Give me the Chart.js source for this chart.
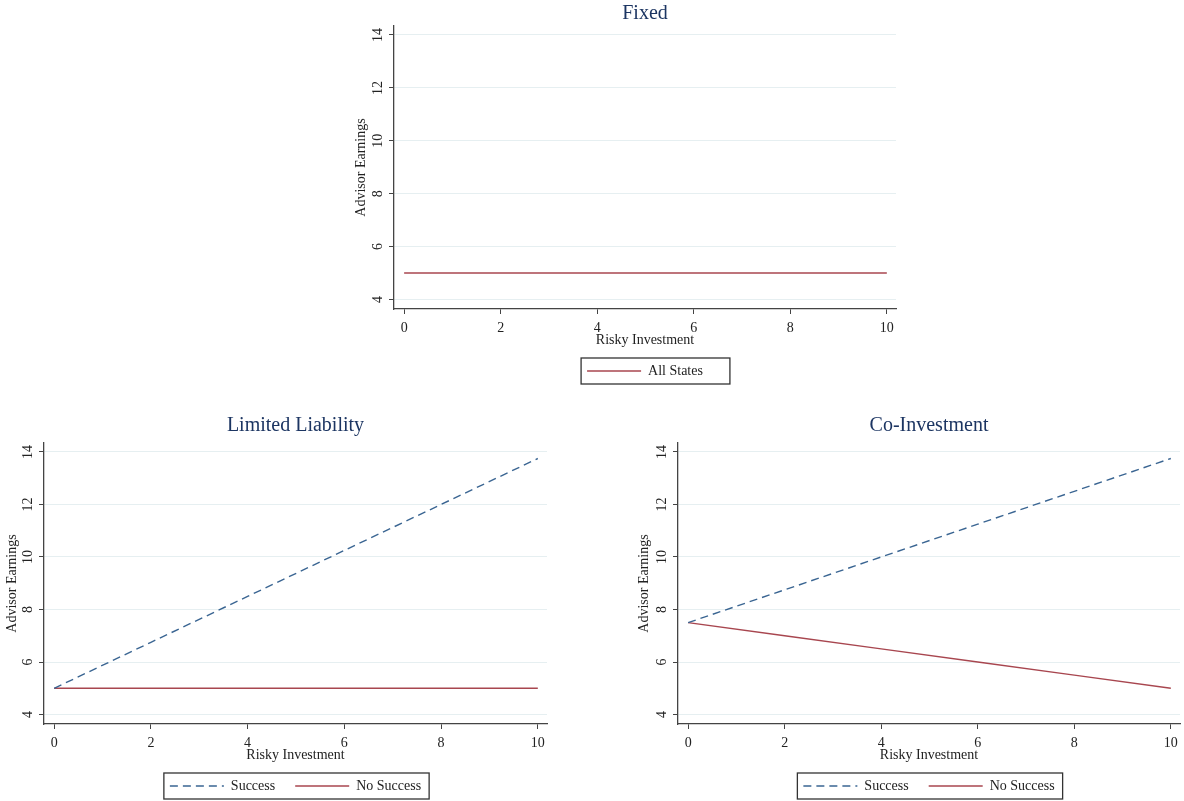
<!DOCTYPE html>
<html lang="en">
<head>
<meta charset="UTF-8">
<title>Advisor Earnings</title>
<script src="https://cdn.jsdelivr.net/npm/chart.js@4.4.7/dist/chart.umd.min.js"></script>
<style>
    html, body { margin: 0; padding: 0; background: #fff; overflow: hidden; }
    body { width: 1184px; height: 801px; position: relative; }
    canvas { position: absolute; }
</style>
</head>
<body>
<canvas id="fixed" width="590" height="388" style="left:350px;top:0px"></canvas>
<canvas id="limited" width="591" height="386" style="left:0px;top:417px"></canvas>
<canvas id="coinv" width="552" height="386" style="left:632px;top:417px"></canvas>
<script>
    // data
    const riskyInvestment = [0, 2, 4, 6, 8, 10];
    const xTicks = [0, 2, 4, 6, 8, 10];
    const yTicks = [4, 6, 8, 10, 12, 14];

    const fixedAllStates = [5, 5, 5, 5, 5, 5];
    const limitedSuccess = [5, 6.75, 8.5, 10.25, 12, 13.75];
    const limitedNoSuccess = [5, 5, 5, 5, 5, 5];
    const coSuccess = [7.5, 8.75, 10, 11.25, 12.5, 13.75];
    const coNoSuccess = [7.5, 7, 6.5, 6, 5.5, 5];

    const BLUE = '#3a6592';
    const RED = '#a8464f';
    const AXIS = '#444';
    const TEXT = '#222';

    Chart.defaults.font.family = '"Liberation Serif", "Times New Roman", serif';
    Chart.defaults.color = TEXT;

    function pts(ys) {
        return riskyInvestment.map((x, i) => ({ x: x, y: ys[i] }));
    }

    function lineSet(label, ys, color, dashed) {
        return {
            label: label,
            data: pts(ys),
            borderColor: color,
            backgroundColor: color,
            borderWidth: 1.4,
            borderDash: dashed ? [8, 5] : [],
            pointRadius: 0,
            fill: false,
            tension: 0
        };
    }

    // legend keys: keep the dataset's dash and width (point style drops them)
    function legendItems(chart) {
        const items = Chart.defaults.plugins.legend.labels.generateLabels(chart);
        items.forEach(it => {
            const ds = chart.data.datasets[it.datasetIndex];
            it.lineDash = ds.borderDash;
            it.strokeStyle = ds.borderColor;
            it.lineWidth = ds.borderWidth;
        });
        return items;
    }

    // rotated y tick labels, Stata style
    const yLabels = {
        id: 'yLabels',
        afterDraw(chart) {
            const sc = chart.scales.y;
            const ctx = chart.ctx;
            ctx.save();
            ctx.font = '14px "Liberation Serif"';
            ctx.fillStyle = TEXT;
            ctx.textAlign = 'center';
            ctx.textBaseline = 'middle';
            sc.ticks.forEach(t => {
                const y = sc.getPixelForValue(t.value);
                ctx.save();
                ctx.translate(sc.right - 16, y);
                ctx.rotate(-Math.PI / 2);
                ctx.fillText(String(t.value), 0, 0);
                ctx.restore();
            });
            ctx.restore();
        }
    };

    // frame around the legend
    const legendFrame = {
        id: 'legendFrame',
        afterDraw(chart, args, opts) {
            const hb = chart.legend.legendHitBoxes;
            if (!hb || !hb.length) return;
            const last = hb[hb.length - 1];
            const left = hb[0].left - opts.padL;
            const right = last.left + last.width + opts.padR;
            const cy = hb[0].top + hb[0].height / 2;
            const ctx = chart.ctx;
            ctx.save();
            ctx.strokeStyle = '#333';
            ctx.lineWidth = 1.3;
            ctx.strokeRect(left, cy - 13, right - left, 26);
            ctx.restore();
        }
    };

    function makeChart(id, title, datasets, cfg) {
        return new Chart(document.getElementById(id), {
            type: 'line',
            data: { datasets: datasets },
            plugins: [yLabels, legendFrame],
            options: {
                responsive: false,
                animation: false,
                layout: { padding: { left: 0, right: cfg.padRight, top: 0, bottom: 0 } },
                scales: {
                    x: {
                        type: 'linear',
                        min: -0.21,
                        max: 10.19,
                        afterBuildTicks: s => { s.ticks = xTicks.map(v => ({ value: v })); },
                        afterFit: s => { s.height = 35; },
                        ticks: { autoSkip: false, maxRotation: 0, padding: 6, color: TEXT, font: { size: 14 } },
                        grid: { drawOnChartArea: false, drawTicks: true, tickLength: 5, tickColor: AXIS, tickWidth: 1 },
                        border: { display: true, color: AXIS, width: 1.3 },
                        title: { display: true, text: 'Risky Investment', color: TEXT, font: { size: 14 }, padding: { top: 0, bottom: -4.6 } }
                    },
                    y: {
                        type: 'linear',
                        min: 3.64,
                        max: 14.34,
                        afterBuildTicks: s => { s.ticks = yTicks.map(v => ({ value: v })); },
                        afterFit: s => { s.width = cfg.yWidth; },
                        ticks: { display: false },
                        grid: { color: '#e6eff1', lineWidth: 1, drawTicks: true, tickLength: 5, tickColor: AXIS, tickWidth: 1 },
                        border: { display: true, color: AXIS, width: 1.3 },
                        title: { display: true, text: 'Advisor Earnings', color: TEXT, font: { size: 14 }, padding: { top: cfg.yTitlePad, bottom: 0 } }
                    }
                },
                plugins: {
                    title: {
                        display: true,
                        fullSize: false,
                        text: title,
                        color: '#1c3562',
                        font: { size: 20, weight: 'normal' },
                        padding: cfg.titlePad
                    },
                    legend: {
                        display: true,
                        position: 'bottom',
                        fullSize: false,
                        labels: {
                            usePointStyle: true,
                            pointStyle: 'line',
                            pointStyleWidth: 54,
                            padding: 20,
                            color: TEXT,
                            font: { size: 14 },
                            generateLabels: legendItems
                        }
                    },
                    legendFrame: { padL: 6, padR: cfg.framePadR },
                    tooltip: { enabled: false }
                }
            }
        });
    }

    makeChart('fixed', 'Fixed', [
        lineSet('All States', fixedAllStates, RED, false)
    ], { padRight: 44, yWidth: 44, yTitlePad: 3.4, titlePad: { top: 2, bottom: 0 }, framePadR: 27 });

    makeChart('limited', 'Limited Liability', [
        lineSet('Success', limitedSuccess, BLUE, true),
        lineSet('No Success', limitedNoSuccess, RED, false)
    ], { padRight: 44, yWidth: 44, yTitlePad: 4.0, titlePad: { top: -3, bottom: 5 }, framePadR: 8 });

    makeChart('coinv', 'Co-Investment', [
        lineSet('Success', coSuccess, BLUE, true),
        lineSet('No Success', coNoSuccess, RED, false)
    ], { padRight: 4, yWidth: 46, yTitlePad: 4.0, titlePad: { top: -3, bottom: 5 }, framePadR: 8 });
</script>
</body>
</html>
